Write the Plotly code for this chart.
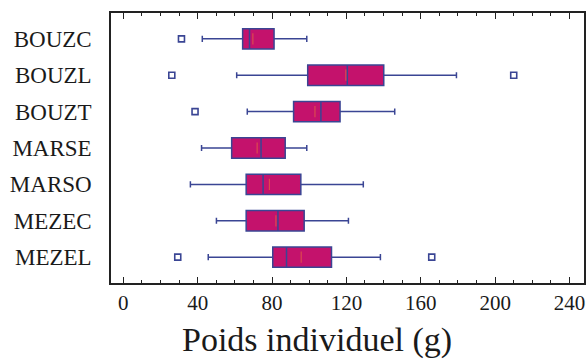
import plotly.graph_objects as go

categories = ["BOUZC", "BOUZL", "BOUZT", "MARSE", "MARSO", "MEZEC", "MEZEL"]
lower_whisker = [42.5, 61, 66.7, 42.1, 36.1, 50.1, 45.7]
q1 = [64.2, 99.2, 91.6, 58.3, 66.1, 66.1, 80.4]
median = [67.9, 120.5, 106.3, 74.1, 75.2, 83.2, 87.8]
q3 = [81.1, 140.1, 116.6, 87.1, 95.5, 97.3, 112.0]
upper_whisker = [98.7, 179.2, 146.0, 98.7, 129.1, 121.1, 138.3]
means = [69.7, 119.7, 103.1, 72.0, 78.6, 82.1, 95.7]

outlier_cat = ["BOUZC", "BOUZL", "BOUZL", "BOUZT", "MEZEL", "MEZEL"]
outlier_val = [31.3, 26.1, 210.0, 38.6, 29.3, 165.9]

x_ticks = [0, 40, 80, 120, 160, 200, 240]

FILL = "#c4126c"
LINE = "#3a4594"
FONT = "Liberation Serif"

fig = go.Figure()
fig.add_trace(go.Box(
    y=categories, q1=q1, median=median, q3=q3,
    lowerfence=lower_whisker, upperfence=upper_whisker,
    orientation="h", fillcolor=FILL,
    line=dict(color=LINE, width=1.5),
    whiskerwidth=0.3, boxpoints=False, showlegend=False,
))
fig.add_trace(go.Scatter(
    x=means, y=categories, mode="markers",
    marker=dict(symbol="line-ns", size=8, line=dict(color="rgba(235,110,60,0.6)", width=1.2)),
    showlegend=False,
))
fig.add_trace(go.Scatter(
    x=outlier_val, y=outlier_cat, mode="markers",
    marker=dict(symbol="square-open", size=6, color=LINE, line=dict(width=1.6)),
    showlegend=False,
))

fig.update_layout(
    width=588, height=362,
    margin=dict(l=111, r=2, t=13, b=79),
    paper_bgcolor="white", plot_bgcolor="white",
    boxgap=0.2,
    font=dict(family=FONT, color="#1a1a1a"),
    annotations=[dict(
        text="Poids individuel (g)", xref="paper", yref="paper",
        x=0.436, y=-0.21, xanchor="center", yanchor="middle",
        showarrow=False, font=dict(family=FONT, size=34, color="#1a1a1a"),
    )],
)
fig.update_xaxes(
    range=[-6.6, 247.8], tickvals=x_ticks, ticktext=[str(t) for t in x_ticks],
    ticks="inside", ticklen=6, tickwidth=1.3, tickcolor="#222",
    minor=dict(dtick=10, tick0=0, ticks="inside", ticklen=3, tickwidth=1.2, tickcolor="#222"),
    showline=True, linecolor="#222", linewidth=1.5, mirror="ticks",
    showgrid=False, zeroline=False,
    tickfont=dict(family=FONT, size=21, color="#1a1a1a"),
)
fig.update_yaxes(
    categoryorder="array", categoryarray=categories,
    range=[6.71, -0.71],
    showline=True, linecolor="#222", linewidth=1.5, mirror=True,
    ticks="", showgrid=False, zeroline=False, ticklabelstandoff=13,
    tickfont=dict(family=FONT, size=23, color="#1a1a1a"),
)

fig.write_html("out.html")
